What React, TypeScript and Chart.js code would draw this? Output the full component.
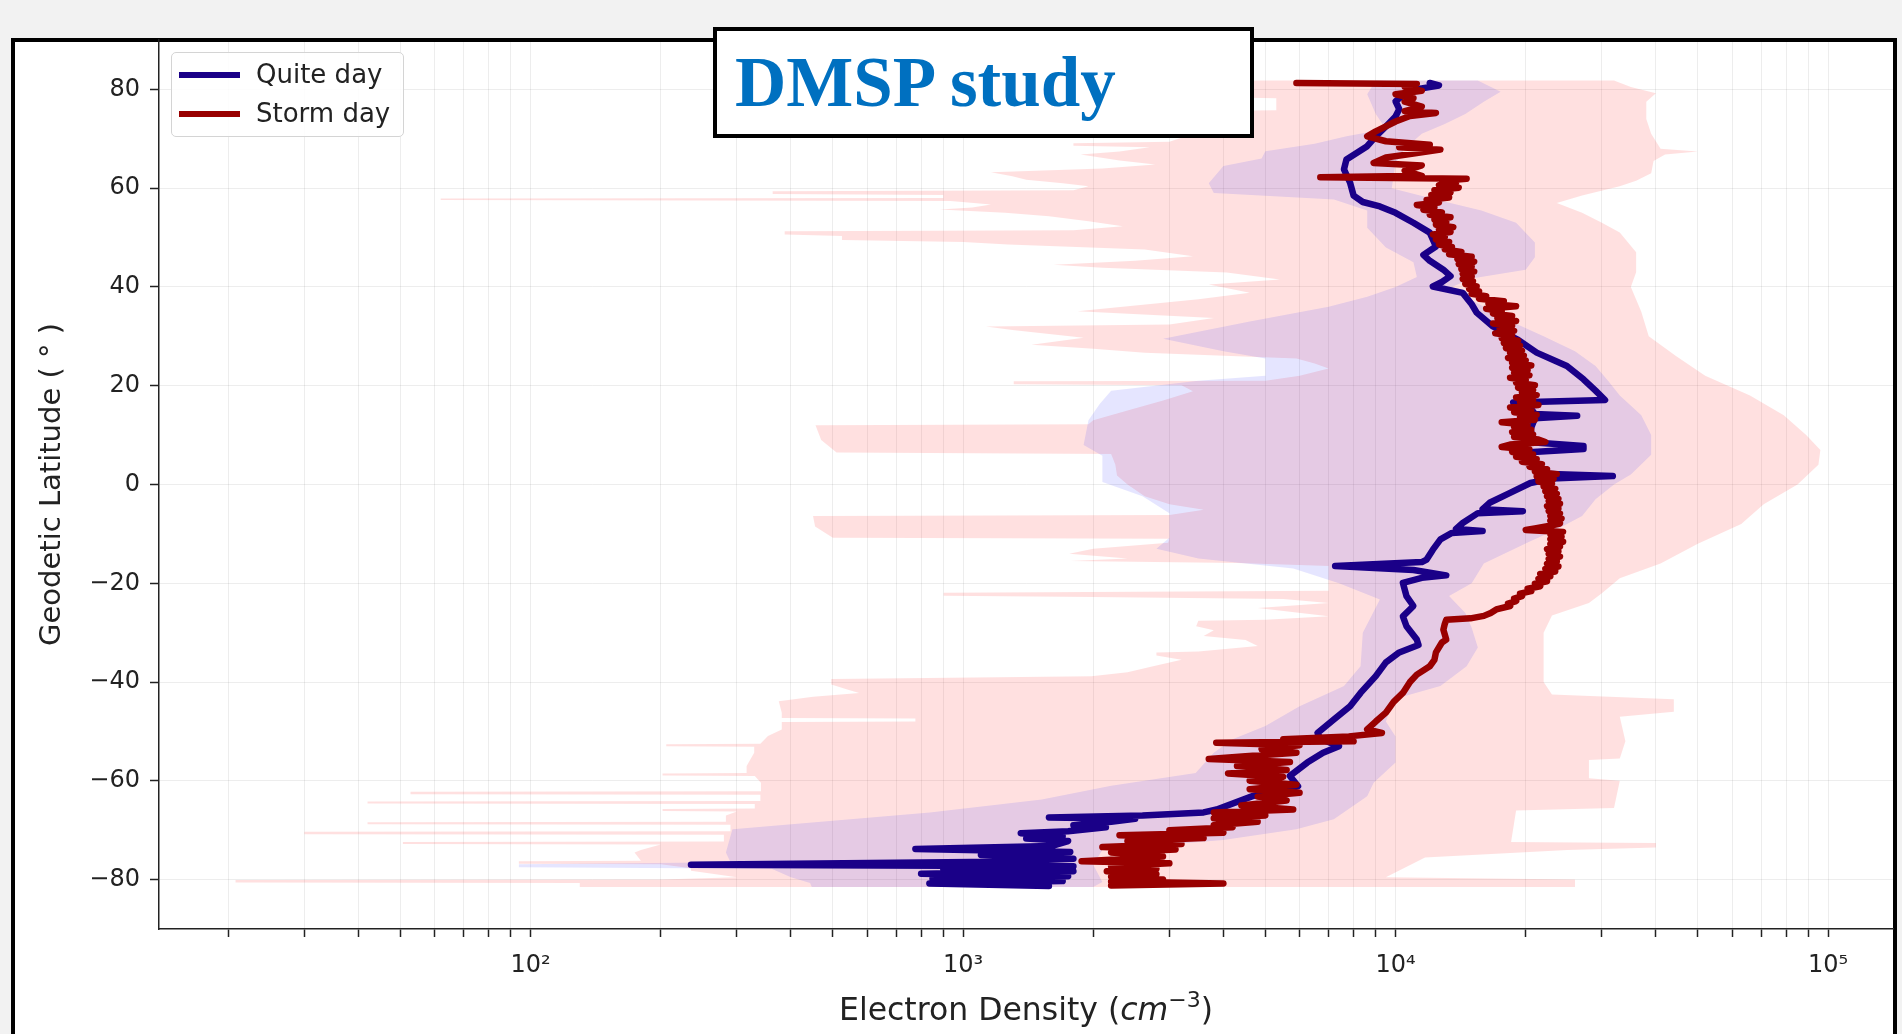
import React, { useEffect, useRef } from 'react';
import { Chart, registerables } from 'chart.js';

Chart.register(...registerables);
Chart.defaults.font.family = "'DejaVu Sans', sans-serif";

// every pair: [geodetic latitude (deg), electron density (cm^-3)]
type Pair = [number, number];

const seriesNames = ['Quite day', 'Storm day'];
const seriesColors = ['#1a0088', '#990000'];
const bandColors = ['rgba(0, 0, 255, 0.10)', 'rgba(255, 0, 0, 0.12)'];
const titleText = 'DMSP study';
const yTitle = 'Geodetic Latitude ( \u00b0 )';

const quietDay: Pair[] = [
  [81.3, 12000], [80.8, 12600], [80.2, 11500], [79.0, 10500], [77.6, 10000], [76.0, 10200], [74.5, 10000],
  [72.5, 9500], [70.5, 9000], [68.5, 8600], [65.8, 7700], [63.8, 7600], [61.1, 7850], [58.5, 8000],
  [57.2, 8400], [56.3, 9200], [55.0, 10000], [53.0, 11000], [51.0, 12000], [48.2, 12400], [46.5, 11600],
  [45.3, 12000], [43.5, 12900], [42.2, 13400], [41.0, 12800], [40.1, 12200], [38.8, 14300], [36.5, 15000],
  [34.8, 15400], [32.0, 16800], [29.4, 19100], [26.7, 21200], [24.0, 24900], [21.3, 27200], [19.0, 29000],
  [17.1, 30500], [16.6, 18700], [15.5, 20500], [14.3, 21000], [13.9, 26300], [13.4, 21000], [11.1, 20500],
  [8.5, 21000], [7.8, 27200], [7.2, 27200], [6.6, 20800], [3.7, 20800], [2.2, 22000], [1.7, 31800],
  [1.2, 23000], [0.3, 20500], [-1.7, 18400], [-3.7, 16500], [-5.0, 15900], [-5.4, 19700], [-5.8, 15500],
  [-7.8, 14300], [-9.0, 13800], [-9.4, 15900], [-9.8, 13500], [-11.1, 12700], [-13.2, 12200], [-15.2, 11800],
  [-15.7, 11500], [-16.5, 7250], [-17.3, 11000], [-18.4, 13100], [-18.9, 11500], [-19.9, 10400], [-22.6, 10600],
  [-24.6, 11000], [-26.7, 10400], [-28.7, 10600], [-31.4, 11200], [-32.5, 11300], [-34.0, 10200], [-36.0, 9500],
  [-38.8, 9000], [-42.2, 8300], [-44.9, 7850], [-47.6, 7200], [-50.3, 6600], [-51.5, 6700], [-53.0, 7400],
  [-54.3, 6800], [-56.3, 6250], [-59.0, 5700], [-61.1, 5950], [-63.1, 4670], [-65.8, 3860], [-66.4, 3600],
  [-67.0, 2600], [-67.4, 1580], [-67.7, 2500], [-68.3, 2200], [-69.0, 1800], [-69.4, 2140], [-70.2, 1750],
  [-70.6, 1360], [-71.2, 1700], [-71.7, 1400], [-72.2, 1750], [-73.2, 1600], [-73.8, 776], [-74.4, 1770],
  [-75.0, 1100], [-75.8, 1800], [-76.4, 1200], [-77.0, 235], [-77.3, 1800], [-77.8, 900], [-78.3, 1800],
  [-78.8, 800], [-79.3, 1750], [-79.8, 850], [-80.3, 1700], [-80.8, 836], [-81.3, 1580],
];

const stormDay: Pair[] = [
  [81.3, 5900], [81.1, 11200], [80.5, 10500], [79.7, 11500], [79.0, 10000], [78.2, 11000], [77.5, 10500],
  [76.5, 11500], [75.6, 10500], [75.2, 12400], [74.6, 10800], [73.5, 10000], [72.5, 9500], [71.5, 9000],
  [70.5, 8600], [69.5, 9500], [68.8, 12000], [68.3, 10200], [67.8, 12700], [67.0, 11000], [66.2, 9500],
  [65.1, 8900], [64.6, 11500], [63.5, 10500], [62.5, 11500], [62.2, 6700],
  [61.9, 14600], [61.5, 12800], [61.1, 13800], [60.6, 12600], [60.1, 14000], [59.6, 12300], [59.1, 13400],
  [58.6, 12100], [58.1, 13300], [57.6, 11800], [57.1, 12600], [56.6, 11200], [56.1, 12300], [55.6, 11600],
  [55.1, 12800], [54.6, 12000], [54.1, 13400], [53.6, 12300], [53.1, 13100], [52.6, 12400], [52.1, 13600],
  [51.6, 12600], [51.1, 13400], [50.6, 12200], [50.1, 13000], [49.6, 12400], [49.1, 13300], [48.6, 12600],
  [48.1, 13500], [47.6, 13000], [47.1, 14200], [46.6, 13300], [46.1, 15000], [45.6, 13900], [45.1, 15200],
  [44.6, 14000], [44.1, 15000], [43.6, 14200], [43.1, 15200], [42.6, 14300], [42.1, 15000], [41.6, 14300],
  [41.1, 15100], [40.6, 14500], [40.1, 15400], [39.6, 14800], [39.1, 15600], [38.6, 15000], [38.1, 16200],
  [37.6, 15600], [37.1, 17800], [36.6, 16400], [36.1, 19000], [35.6, 16200], [35.1, 17600], [34.6, 16800],
  [34.1, 18600], [33.6, 17200], [33.1, 19000], [32.6, 16800], [32.1, 18600], [31.6, 17400], [31.1, 18800],
  [30.6, 17000], [30.1, 18600], [29.6, 17600], [29.1, 19200], [28.6, 17800], [28.1, 19400], [27.6, 18000],
  [27.1, 19600], [26.6, 18400], [26.1, 19800], [25.6, 18200], [25.1, 20000], [24.6, 18600], [24.1, 20600],
  [23.6, 18600], [23.1, 20200], [22.6, 18800], [22.1, 20400], [21.6, 18400], [21.1, 20000], [20.6, 19000],
  [20.1, 21000], [19.6, 19200], [19.1, 20800], [18.6, 19600], [18.1, 21200], [17.6, 19000], [17.1, 20800],
  [16.6, 19400], [16.1, 21400], [15.6, 18400], [15.1, 20600], [14.6, 18800], [14.1, 21200], [13.6, 19400],
  [13.1, 21000], [12.6, 17600], [12.1, 20200], [11.6, 18800], [11.1, 20600], [10.6, 18600], [10.1, 20800],
  [9.6, 18800], [9.1, 21400], [8.6, 22200], [8.1, 18400], [7.6, 17600], [7.1, 20400], [6.6, 18600],
  [6.1, 20800], [5.6, 19000], [5.1, 21200], [4.6, 19600], [4.1, 21800], [3.6, 20400], [3.1, 22400],
  [2.6, 21000], [2.1, 23600], [1.6, 21200], [1.1, 23200], [0.6, 21400], [0.1, 23000], [-0.4, 22000],
  [-0.9, 23400], [-1.4, 22200], [-1.9, 23600], [-2.4, 22400], [-2.9, 23800], [-3.4, 22600], [-3.9, 24000],
  [-4.4, 22400], [-4.9, 23800], [-5.4, 22600], [-5.9, 24000], [-6.4, 22800], [-6.9, 24200], [-7.4, 22800],
  [-7.9, 24000], [-8.4, 22600], [-8.9, 21000], [-9.2, 20000], [-9.6, 24400], [-10.1, 22800], [-10.6, 24200],
  [-11.1, 22800], [-11.6, 24400], [-12.1, 22800], [-12.6, 24000], [-13.1, 22400], [-13.6, 23800],
  [-14.1, 22600], [-14.6, 24000], [-15.1, 22600], [-15.6, 23600], [-16.1, 22400], [-16.6, 23800],
  [-17.1, 22200], [-17.6, 23400], [-18.1, 21600], [-18.6, 22800], [-19.1, 21400], [-19.6, 22400],
  [-20.1, 21000], [-20.6, 21600], [-21.1, 20200], [-21.6, 20600], [-22.1, 19400], [-22.6, 19600],
  [-23.1, 18800], [-23.6, 19000], [-24.1, 18200], [-24.6, 18400], [-25.3, 17100], [-26.0, 16600],
  [-26.6, 16000], [-27.1, 14900], [-27.4, 13100], [-28.2, 13000], [-29.4, 12900], [-31.4, 13100],
  [-32.0, 12800], [-34.0, 12400], [-35.5, 12300], [-36.8, 12000], [-38.5, 11200], [-40.0, 10800], [-42.2, 10400],
  [-44.0, 9900], [-46.2, 9500], [-48.0, 9000], [-49.6, 8600], [-50.3, 9300], [-51.0, 7800], [-51.6, 5500],
  [-52.0, 8000], [-52.3, 3850], [-52.8, 6000], [-53.6, 4900], [-54.3, 5900], [-55.0, 4500], [-55.6, 3700],
  [-56.2, 5700], [-57.0, 4300], [-57.8, 5600], [-58.5, 4100], [-59.2, 5500], [-60.0, 4600], [-60.8, 5900],
  [-61.7, 4600], [-62.4, 6000], [-63.2, 4800], [-64.0, 5600], [-65.0, 4400], [-65.8, 5800], [-66.4, 3800],
  [-67.0, 5000], [-67.6, 3800], [-68.3, 4800], [-69.0, 3800], [-69.4, 4200], [-70.0, 3000], [-70.5, 4000],
  [-71.0, 2300], [-71.6, 3600], [-72.2, 2400], [-72.8, 3200], [-73.4, 2100], [-73.9, 3100], [-74.5, 2200],
  [-75.3, 2900], [-76.0, 2200], [-76.3, 1880], [-76.7, 3000], [-77.3, 2200], [-77.8, 2800], [-78.3, 2150],
  [-78.9, 2800], [-79.4, 2200], [-80.0, 2900], [-80.4, 2200], [-80.8, 4000], [-81.2, 2200],
];

// quiet-day spread (lower and upper edge)
const quietLow: Pair[] = [
  [81.8, 9000], [79.0, 8600], [75.0, 9000], [72.0, 9500], [70.5, 7700], [69.0, 6500], [67.5, 5000],
  [66.0, 4900], [64.5, 4000], [61.0, 3700], [59.0, 3800], [57.7, 7200], [55.5, 8600], [52.0, 8600],
  [48.0, 9500], [45.0, 11000], [42.0, 11200], [40.0, 10000], [38.0, 8600], [36.0, 7000], [33.0, 4600],
  [29.5, 2900], [27.0, 4000], [25.5, 5000], [22.0, 5000], [21.0, 3500], [19.0, 2200], [16.3, 2070],
  [13.0, 1950], [8.0, 1900], [5.8, 2100], [0.5, 2100], [-2.4, 2600], [-5.8, 3000], [-10.8, 3000],
  [-13.0, 2800], [-15.0, 3500], [-17.0, 5800], [-20.0, 7400], [-23.3, 9200], [-30.0, 8400], [-36.8, 8300],
  [-40.8, 7600], [-44.9, 6000], [-48.9, 5000], [-51.6, 4200], [-54.3, 3800], [-58.4, 3450], [-61.0, 2200],
  [-63.8, 1520], [-66.4, 837], [-69.8, 293], [-74.5, 283], [-76.5, 290], [-76.9, 94], [-77.5, 94],
  [-77.8, 361], [-79.5, 400], [-80.7, 443], [-81.5, 447],
];
const quietHigh: Pair[] = [
  [81.8, 15500], [79.5, 17500], [77.5, 16000], [75.0, 14500], [73.0, 13000], [71.0, 11500], [68.0, 10500],
  [65.0, 10000], [60.0, 9800], [57.7, 12400], [55.5, 15800], [53.0, 19000], [49.0, 21000], [46.0, 21000],
  [43.5, 20000], [41.7, 15000], [40.0, 13500], [38.0, 14500], [36.0, 16000], [33.0, 18500], [30.0, 22000],
  [27.0, 26000], [24.0, 29000], [21.0, 31000], [18.0, 33000], [14.0, 37000], [10.0, 39000], [6.0, 39000],
  [2.0, 35000], [0.0, 32000], [-3.0, 29000], [-6.4, 27000], [-9.0, 23700], [-11.5, 20500], [-16.0, 16000],
  [-20.0, 15000], [-22.6, 13300], [-26.0, 14500], [-29.0, 15000], [-33.0, 15500], [-36.8, 14600],
  [-40.8, 12700], [-43.5, 9900], [-48.0, 9500], [-51.0, 10000], [-56.3, 10000], [-60.4, 8900], [-63.1, 8600],
  [-67.8, 7200], [-69.8, 5900], [-72.0, 4000], [-74.0, 2100], [-77.0, 2000], [-80.5, 2100], [-81.5, 2000],
];

// storm-day spread (lower and upper edge)
const stormLow: Pair[] = [
  [81.8, 1500], [79.0, 1500], [78.2, 5300], [75.8, 5300], [75.4, 2000], [70.6, 2200], [70.2, 3200],
  [69.4, 3000], [69.1, 1800], [68.6, 1800], [68.3, 2700], [67.4, 2300], [66.8, 1870], [65.6, 2300],
  [64.8, 2780], [64.0, 2100], [63.2, 1160], [62.4, 1300], [61.7, 1400], [61.0, 1700], [60.4, 1950],
  [59.6, 1800], [59.4, 363], [58.8, 363], [58.6, 900], [58.0, 900], [57.9, 62], [57.6, 62], [57.4, 935],
  [56.7, 1160], [56.1, 1050], [55.7, 883], [55.0, 1250], [54.3, 1580], [53.3, 1950], [52.3, 2340],
  [51.5, 1800], [51.3, 387], [50.6, 387], [50.3, 525], [49.5, 525], [49.1, 1000], [48.6, 1270], [47.6, 2630],
  [46.2, 3400], [45.3, 2500], [44.5, 1620], [43.9, 2100], [42.9, 4070], [41.5, 5400], [40.5, 3700],
  [38.8, 4600], [37.5, 3500], [36.8, 2900], [35.6, 2100], [35.1, 1840], [33.7, 3800], [32.4, 3000],
  [32.0, 1130], [31.3, 1300], [29.7, 1900], [28.3, 1440], [27.5, 2000], [26.7, 2630], [25.5, 5900],
  [24.5, 6500], [23.5, 7000], [22.0, 6000], [21.0, 5000], [20.9, 1310], [20.3, 1310], [20.1, 3200],
  [18.9, 3400], [17.0, 2900], [15.0, 2400], [13.0, 2000], [12.2, 1950], [12.0, 456], [9.0, 470], [6.5, 510],
  [6.2, 2200], [4.0, 2250], [1.8, 2270], [0.0, 2400], [-2.4, 2630], [-4.0, 3000], [-5.1, 3600], [-6.2, 3000],
  [-6.4, 450], [-8.5, 455], [-10.8, 500], [-11.0, 3000], [-11.8, 2980], [-13.0, 2000], [-14.0, 1760],
  [-15.0, 2400], [-15.5, 1770], [-15.9, 4300], [-16.5, 7000], [-21.5, 7000], [-21.9, 902], [-22.5, 902],
  [-22.8, 1980], [-23.2, 5500], [-24.0, 7000], [-25.0, 4800], [-26.7, 7000], [-27.4, 5000], [-27.6, 3500],
  [-28.7, 3460], [-29.5, 3800], [-30.7, 3600], [-31.5, 4500], [-32.7, 4800], [-33.8, 3500], [-34.0, 2800],
  [-34.6, 2800], [-35.5, 3200], [-36.8, 2750], [-38.0, 2400], [-38.8, 1980], [-39.4, 496], [-40.5, 496],
  [-41.5, 540], [-42.2, 575], [-43.0, 450], [-43.9, 375], [-46.2, 381], [-47.3, 381], [-47.4, 776],
  [-48.0, 776], [-48.1, 381], [-49.6, 381], [-50.9, 354], [-52.5, 340], [-52.6, 206], [-53.0, 206],
  [-53.1, 329], [-54.3, 329], [-57.0, 316], [-58.4, 316], [-58.5, 202], [-58.9, 202], [-59.0, 330],
  [-60.4, 341], [-62.1, 341], [-62.2, 52.8], [-62.7, 52.8], [-62.8, 340], [-64.1, 340], [-64.2, 42],
  [-64.6, 42], [-64.7, 330], [-65.6, 330], [-65.7, 202], [-66.1, 202], [-66.2, 300], [-67.0, 283],
  [-68.3, 283], [-68.4, 42], [-68.8, 42], [-68.9, 290], [-70.2, 290], [-70.3, 30], [-70.8, 30], [-70.9, 280],
  [-72.3, 280], [-72.4, 50.7], [-72.8, 50.7], [-72.9, 200], [-74.0, 180], [-74.5, 174], [-76.2, 180],
  [-76.3, 94], [-76.8, 94], [-76.9, 200], [-77.7, 235], [-78.2, 235], [-79.5, 300], [-80.0, 200],
  [-80.1, 20.8], [-80.6, 20.8], [-80.7, 130], [-81.5, 130],
];
const stormHigh: Pair[] = [
  [81.8, 32000], [80.5, 35000], [79.2, 40000], [77.5, 38000], [74.0, 38000], [71.0, 39000], [68.0, 41000],
  [67.4, 50000], [66.8, 42000], [65.5, 39500], [63.0, 39000], [61.5, 36000], [60.4, 33000], [58.5, 27000],
  [57.0, 23600], [55.0, 27000], [53.0, 30000], [51.0, 33000], [47.0, 36000], [43.0, 36000], [40.0, 35000],
  [35.0, 37000], [30.0, 38500], [26.0, 44500], [22.0, 52000], [18.0, 66000], [14.0, 79000], [10.0, 89000],
  [7.0, 96000], [4.0, 95000], [0.0, 85000], [-4.0, 71000], [-8.0, 63000], [-12.0, 50000], [-16.0, 41000],
  [-19.0, 33000], [-22.0, 30000], [-24.0, 28000], [-26.5, 23000], [-30.0, 22000], [-36.0, 22000],
  [-40.0, 22000], [-42.5, 23000], [-43.5, 44000], [-46.0, 44000], [-47.0, 33000], [-52.0, 34000],
  [-55.5, 33000], [-55.8, 28000], [-59.5, 28000], [-60.0, 33000], [-65.5, 32000], [-66.0, 19000],
  [-72.4, 18500], [-72.6, 40000], [-73.5, 40000], [-74.0, 25000], [-75.5, 11700], [-79.5, 9500],
  [-80.0, 26000], [-81.5, 26000],
];

const xTickValues = [
  20, 30, 40, 50, 60, 70, 80, 90, 100, 200, 300, 400, 500, 600, 700, 800, 900, 1000, 2000, 3000, 4000, 5000,
  6000, 7000, 8000, 9000, 10000, 20000, 30000, 40000, 50000, 60000, 70000, 80000, 90000, 100000,
];
const xTickLabels: Record<string, string> = { '100': '10\u00b2', '1000': '10\u00b3', '10000': '10\u2074', '100000': '10\u2075' };
const yTickValues = [-80, -60, -40, -20, 0, 20, 40, 60, 80];
const xRange = [13.84, 141300];
const yRange = [-90, 90];

const toXY = (arr: Pair[]) => arr.map(([lat, n]) => ({ x: n, y: lat }));
const bandPolygon = (low: Pair[], high: Pair[]) => [...toXY(low), ...toXY(high).reverse()];

const lineDataset = (label: string, data: Pair[], color: string) => ({
  label,
  data: toXY(data),
  borderColor: color,
  backgroundColor: color,
  borderWidth: 6.5,
  borderJoinStyle: 'round',
  borderCapStyle: 'round',
  pointRadius: 0,
  pointHoverRadius: 0,
  tension: 0,
  fill: false,
});

const bandDataset = (label: string, low: Pair[], high: Pair[], color: string) => ({
  label,
  data: bandPolygon(low, high),
  borderColor: 'rgba(0,0,0,0)',
  backgroundColor: color,
  borderWidth: 0,
  pointRadius: 0,
  pointHoverRadius: 0,
  tension: 0,
  fill: 'shape',
});

const xTitlePlugin = {
  id: 'xTitleMixed',
  afterDraw(chart: any) {
    const { ctx, chartArea } = chart;
    const parts = [
      { t: 'Electron Density (', f: "31.5px 'DejaVu Sans'", dy: 0 },
      { t: 'cm', f: "italic 31.5px 'DejaVu Sans'", dy: 0 },
      { t: '\u22123', f: "22px 'DejaVu Sans'", dy: -13 },
      { t: ')', f: "31.5px 'DejaVu Sans'", dy: 0 },
    ];
    ctx.save();
    let total = 0;
    const widths = parts.map((p) => {
      ctx.font = p.f;
      const w = ctx.measureText(p.t).width;
      total += w;
      return w;
    });
    let x = (chartArea.left + chartArea.right) / 2 - total / 2;
    const y = chartArea.bottom + 91;
    ctx.fillStyle = '#222';
    ctx.textBaseline = 'alphabetic';
    ctx.textAlign = 'left';
    parts.forEach((p, i) => {
      ctx.font = p.f;
      ctx.fillText(p.t, x, y + p.dy);
      x += widths[i];
    });
    ctx.restore();
  },
};

export default function App() {
  const canvasRef = useRef<HTMLCanvasElement>(null);

  useEffect(() => {
    if (!canvasRef.current) return;
    const gridColor = 'rgba(0,0,0,0.07)';
    const chart = new Chart(canvasRef.current, {
      type: 'line',
      data: {
        datasets: [
          lineDataset(seriesNames[1], stormDay, seriesColors[1]),
          lineDataset(seriesNames[0], quietDay, seriesColors[0]),
          bandDataset('Quiet spread', quietLow, quietHigh, bandColors[0]),
          bandDataset('Storm spread', stormLow, stormHigh, bandColors[1]),
        ] as any,
      },
      options: {
        responsive: false,
        devicePixelRatio: 1,
        animation: false,
        events: [],
        layout: { padding: { left: 16, right: 9, top: 40, bottom: 4 } },
        plugins: {
          legend: { display: false },
          tooltip: { enabled: false },
        },
        scales: {
          x: {
            type: 'logarithmic',
            position: 'bottom',
            min: xRange[0],
            max: xRange[1],
            afterBuildTicks: (s: any) => {
              s.ticks = xTickValues.map((v) => ({ value: v }));
            },
            afterFit: (s: any) => {
              s.height = 101;
            },
            ticks: {
              autoSkip: false,
              maxRotation: 0,
              minRotation: 0,
              padding: 14,
              color: '#222',
              font: { size: 24 },
              callback: (v: any) => xTickLabels[String(v)] ?? '',
            },
            grid: { color: gridColor, lineWidth: 1, drawTicks: true, tickLength: 8, tickColor: '#222', tickWidth: 1.5 },
            border: { display: true, color: '#222', width: 1.5 },
          },
          y: {
            type: 'linear',
            position: 'left',
            min: yRange[0],
            max: yRange[1],
            afterBuildTicks: (s: any) => {
              s.ticks = yTickValues.map((v) => ({ value: v }));
            },
            afterFit: (s: any) => {
              s.width = 143;
            },
            ticks: {
              padding: 10,
              color: '#222',
              font: { size: 24 },
              callback: (v: any) => (v < 0 ? '\u2212' + Math.abs(v) : String(v)),
            },
            grid: { color: gridColor, lineWidth: 1, drawTicks: true, tickLength: 9, tickColor: '#222', tickWidth: 1.5 },
            border: { display: true, color: '#222', width: 1.5 },
            title: {
              display: true,
              text: yTitle,
              color: '#222',
              font: { size: 29 },
              padding: { top: 19, bottom: 0 },
            },
          },
        },
      } as any,
      plugins: [xTitlePlugin],
    });
    return () => chart.destroy();
  }, []);

  return (
    <div style={{ position: 'fixed', left: 0, top: 0, width: 1902, height: 1034, background: '#f2f2f2', overflow: 'hidden' }}>
      <div
        style={{
          position: 'absolute', left: 11, top: 38, width: 1886, height: 1100,
          boxSizing: 'border-box', border: '4px solid #000', background: '#fff',
        }}
      />
      <canvas
        ref={canvasRef}
        width={1902}
        height={1034}
        style={{ position: 'absolute', left: 0, top: 0, width: 1902, height: 1034 }}
      />
      <div
        style={{
          position: 'absolute', left: 171, top: 52, width: 233, height: 85, boxSizing: 'border-box',
          border: '1px solid #d4d4d4', borderRadius: 5, background: 'rgba(255,255,255,0.85)',
          fontFamily: "'DejaVu Sans', sans-serif", fontSize: 26, color: '#222',
        }}
      >
        {seriesNames.map((name, i) => (
          <div key={name}>
            <div
              style={{
                position: 'absolute', left: 7, top: 22 + i * 39 - 3, width: 61, height: 6, background: seriesColors[i],
              }}
            />
            <div style={{ position: 'absolute', left: 84, top: 22 + i * 39 - 16, lineHeight: '31px', whiteSpace: 'nowrap' }}>
              {name}
            </div>
          </div>
        ))}
      </div>
      <div
        style={{
          position: 'absolute', left: 713, top: 27, width: 541, height: 111, boxSizing: 'border-box',
          border: '4px solid #000', background: '#fff',
        }}
      >
        <div
          style={{
            position: 'absolute', left: 18, top: 16, lineHeight: '71px', whiteSpace: 'nowrap',
            fontFamily: "'Liberation Serif', 'Times New Roman', serif", fontWeight: 'bold', fontSize: 71, color: '#0070C0',
          }}
        >
          {titleText}
        </div>
      </div>
    </div>
  );
}
